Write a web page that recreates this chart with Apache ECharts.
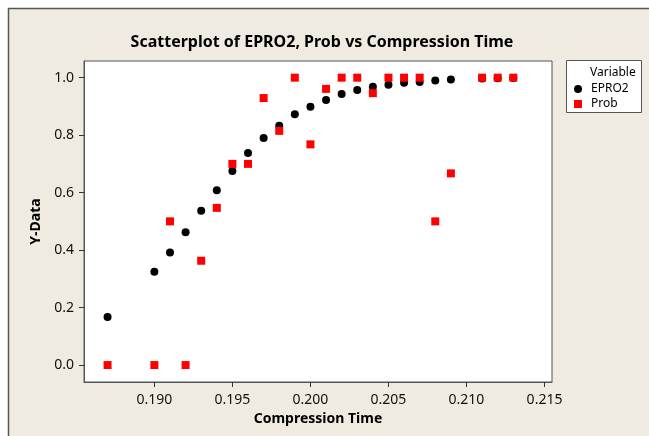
<!DOCTYPE html>
<html>
<head>
<meta charset="utf-8">
<script src="https://cdn.jsdelivr.net/npm/echarts@6/dist/echarts.min.js"></script>
<style>
html,body{margin:0;padding:0;background:#fff;}
#chart{width:649px;height:436px;}
</style>
</head>
<body>
<div id="chart"></div>
<script>
const compressionTime = [0.187,0.190,0.191,0.192,0.193,0.194,0.195,0.196,0.197,0.198,0.199,0.200,0.201,0.202,0.203,0.204,0.205,0.206,0.207,0.208,0.209,0.211,0.212,0.213];
const epro2 = [0.167,0.325,0.392,0.462,0.537,0.608,0.675,0.738,0.790,0.833,0.873,0.899,0.922,0.943,0.957,0.968,0.975,0.982,0.985,0.990,0.994,0.997,0.998,0.999];
const prob = [0,0,0.5,0,0.363,0.547,0.70,0.70,0.929,0.815,1.0,0.768,0.961,1.0,1.0,0.946,1.0,1.0,1.0,0.5,0.667,1.0,1.0,1.0];
const xTicks = [0.190,0.195,0.200,0.205,0.210,0.215];
const yTicks = [0.0,0.2,0.4,0.6,0.8,1.0];
const seriesNames = ['EPRO2','Prob'];

const FONT = 'Noto Sans';
const chart = echarts.init(document.getElementById('chart'), null, {renderer:'canvas'});
const pair = (xs, ys) => xs.map((x,i)=>[x, ys[i]]);

chart.setOption({
  backgroundColor: '#ffffff',
  animation: false,
  title: {
    text: 'Scatterplot of EPRO2, Prob vs Compression Time',
    left: 317, top: 29, textAlign: 'center',
    textStyle: {fontFamily: FONT, fontWeight: 'bold', fontSize: 16, color: '#000'}
  },
  graphic: [
    {type:'rect', z:-10, silent:true, shape:{x:8.5,y:8.5,width:660,height:460},
     style:{fill:'#EFEBE1', stroke:'#555', lineWidth:1.5}},
    {type:'rect', z:10, silent:true, shape:{x:566.5,y:60.5,width:75,height:52},
     style:{fill:'#fff', stroke:'#555', lineWidth:1}},
    {type:'text', z:11, silent:true, left: 590, top: 67,
     style:{text:'Variable', font:'12px "'+FONT+'"', fill:'#000'}}
  ],
  legend: {
    z: 12, padding: 0,
    orient: 'vertical', left: 574, top: 82,
    itemWidth: 8, itemHeight: 8, itemGap: 1,
    data: [{name:'EPRO2', icon:'circle'}, {name:'Prob', icon:'rect'}],
    textStyle: {fontFamily: FONT, fontSize: 12, lineHeight: 14, color:'#000', padding:[0,0,0,4]}
  },
  grid: {
    left: 84, top: 61, width: 468, height: 321,
    show: true, backgroundColor: '#fff', borderColor: '#555', borderWidth: 1,
    containLabel: false
  },
  xAxis: {
    type: 'value', min: 0.18549, max: 0.21548,
    name: 'Compression Time', nameLocation: 'middle', nameGap: 27,
    nameTextStyle: {fontFamily: FONT, fontWeight: 'bold', fontSize: 14, color: '#000'},
    axisLine: {show: true, onZero: false, lineStyle: {color: '#555'}},
    axisTick: {show: true, length: 5, lineStyle: {color: '#333'}, customValues: xTicks},
    axisLabel: {fontFamily: FONT, fontSize: 14, color: '#111', margin: 11,
      customValues: xTicks, formatter: v => v.toFixed(3)},
    splitLine: {show: false}
  },
  yAxis: {
    type: 'value', min: -0.059, max: 1.058,
    name: 'Y-Data', nameLocation: 'middle', nameGap: 40, nameRotate: 90,
    nameTextStyle: {fontFamily: FONT, fontWeight: 'bold', fontSize: 14, color: '#000'},
    axisLine: {show: true, onZero: false, lineStyle: {color: '#555'}},
    axisTick: {show: true, length: 5, lineStyle: {color: '#333'}, customValues: yTicks},
    axisLabel: {fontFamily: FONT, fontSize: 14, color: '#111', margin: 10,
      customValues: yTicks, formatter: v => v.toFixed(1)},
    splitLine: {show: false}
  },
  series: [
    {name: seriesNames[0], type: 'scatter', symbol: 'circle', symbolSize: 8,
     itemStyle: {color: '#000', opacity: 1}, data: pair(compressionTime, epro2)},
    {name: seriesNames[1], type: 'scatter', symbol: 'rect', symbolSize: 8,
     itemStyle: {color: '#FF0000', opacity: 1}, data: pair(compressionTime, prob)}
  ]
});
</script>
</body>
</html>
